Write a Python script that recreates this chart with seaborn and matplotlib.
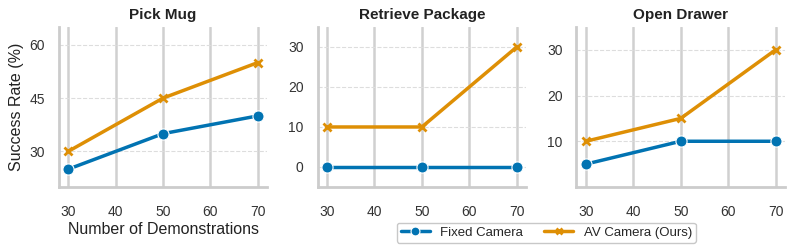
import pandas as pd
import matplotlib
matplotlib.use("Agg")
import matplotlib.pyplot as plt
import seaborn as sns

demos = [30, 50, 70]
tasks = ["Pick Mug", "Retrieve Package", "Open Drawer"]
methods = ["Fixed Camera", "AV Camera (Ours)"]
fixed_cam = {"Pick Mug": [25, 35, 40], "Retrieve Package": [0, 0, 0], "Open Drawer": [5, 10, 10]}
av_cam = {"Pick Mug": [30, 45, 55], "Retrieve Package": [10, 10, 30], "Open Drawer": [10, 15, 30]}
yticks = {"Pick Mug": [30, 45, 60], "Retrieve Package": [0, 10, 20, 30], "Open Drawer": [10, 20, 30]}
ylims = {"Pick Mug": (20, 65), "Retrieve Package": (-5, 35), "Open Drawer": (0, 35)}

rows = []
for t in tasks:
    for d, f, a in zip(demos, fixed_cam[t], av_cam[t]):
        rows.append({"task": t, "demos": d, "method": methods[0], "rate": f})
        rows.append({"task": t, "demos": d, "method": methods[1], "rate": a})
df = pd.DataFrame(rows)

sns.set_theme(style="whitegrid")
plt.rcParams["font.family"] = ["Liberation Sans", "DejaVu Sans"]
palette = {methods[0]: "#0173b2", methods[1]: "#de8f05"}

fig, axes = plt.subplots(1, 3, figsize=(7.93, 2.52), dpi=100)
fig.subplots_adjust(left=0.074, right=0.99, bottom=0.258, top=0.893, wspace=0.24)

for ax, t in zip(axes, tasks):
    sub = df[df["task"] == t]
    for m in methods:
        s = sub[sub["method"] == m]
        if m == methods[0]:
            sns.lineplot(data=s, x="demos", y="rate", ax=ax, color=palette[m],
                         marker="o", markersize=8, linewidth=2.5, label=m,
                         markeredgecolor="white", markeredgewidth=0.8)
        else:
            sns.lineplot(data=s, x="demos", y="rate", ax=ax, color=palette[m],
                         marker="x", markersize=6, linewidth=2.5, label=m,
                         markeredgecolor=palette[m], markeredgewidth=2)
    ax.set_title(t, fontsize=11, fontweight="bold", pad=6, color="#222222")
    ax.set_xticks([30, 40, 50, 60, 70])
    ax.set_yticks(yticks[t])
    ax.set_ylim(*ylims[t])
    ax.set_xlim(28, 72)
    ax.tick_params(labelsize=10, colors="#333333", pad=4)
    ax.tick_params(axis="x", pad=7)
    ax.xaxis.grid(True, color="#d0d0d0", linewidth=1.8, linestyle="-")
    ax.yaxis.grid(True, color="#dddddd", linewidth=0.8, linestyle="--")
    ax.set_axisbelow(True)
    for sp in ["left", "bottom"]:
        ax.spines[sp].set_color("#cccccc")
        ax.spines[sp].set_linewidth(2)
    ax.set_xlabel("")
    ax.set_ylabel("")
    ax.get_legend().remove()
sns.despine(fig=fig)

axes[0].set_xlabel("Number of Demonstrations", fontsize=11.5, color="#222222", labelpad=2)
axes[0].set_ylabel("Success Rate (%)", fontsize=11.5, color="#222222")

handles, labels = axes[0].get_legend_handles_labels()
fig.legend(handles, labels, loc="lower center", bbox_to_anchor=(0.689, 0.01), ncol=2,
           fontsize=9.5, frameon=True, edgecolor="#bbbbbb", fancybox=True,
           handlelength=2.2, columnspacing=1.6, borderpad=0.3, markerscale=0.8)

fig.savefig("out.png", dpi=100)
